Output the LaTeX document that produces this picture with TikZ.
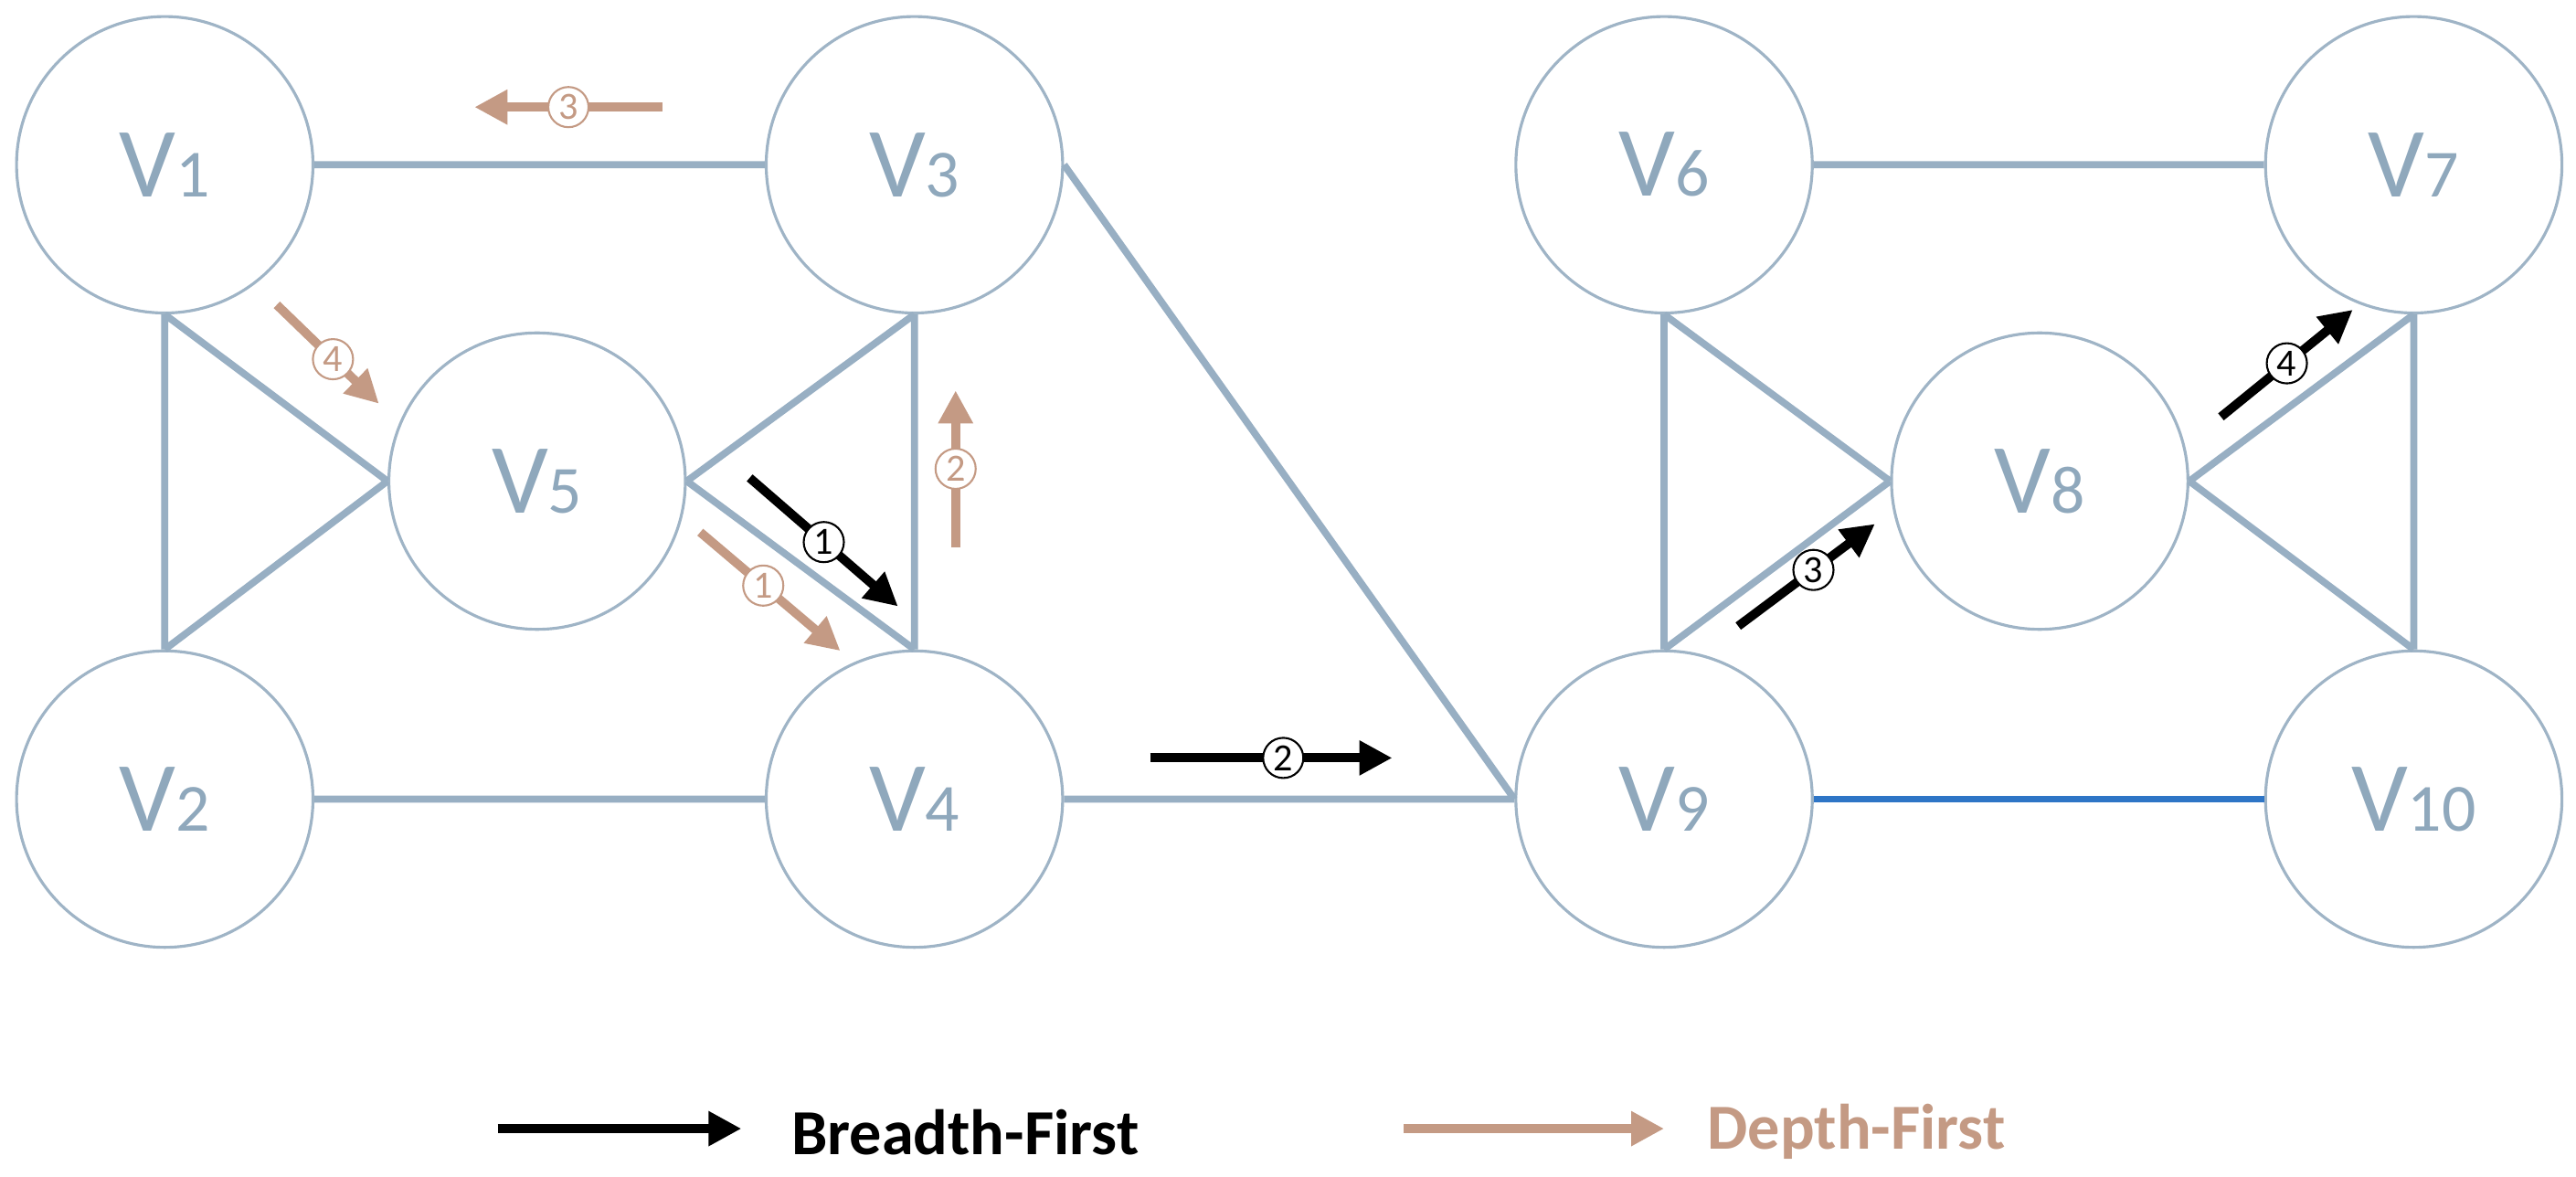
\documentclass[tikz,border=0pt]{standalone}
\usepackage{fontspec}
\setmainfont{Carlito}
\usetikzlibrary{arrows.meta}
\definecolor{edge}{HTML}{98AFC3}
\definecolor{ring}{HTML}{9FB4C6}
\definecolor{lab}{HTML}{8FA8BC}
\definecolor{tan}{HTML}{C49A84}
\definecolor{blu}{HTML}{2E75C6}
\begin{document}
\begin{tikzpicture}[x=0.01803cm,y=-0.01803cm,
  vert/.style={circle,draw=ring,line width=0.9pt,minimum size=3.245cm,inner sep=0pt,text=lab,font=\fontsize{31}{31}\selectfont},
  e/.style={draw=edge,line width=2.2pt},
  bfs/.style={line width=2.8pt,black,-{Triangle[length=0.36cm,width=0.36cm]}},
  dfs/.style={line width=2.8pt,tan,-{Triangle[length=0.36cm,width=0.36cm]}},
  num/.style={circle,draw,line width=0.6pt,fill=white,inner sep=0.5pt,minimum size=0.44cm,font=\fontsize{12}{12}\selectfont},
  bnum/.style={num,draw=black,text=black},
  dnum/.style={num,draw=tan,text=tan}]
\useasboundingbox (0,0) rectangle (1563.5,714.3);
\newcommand{\vl}[1]{V{\fontsize{21}{21}\selectfont #1}}
\node[vert] (v1) at (100,100) {\vl{1}};
\node[vert] (v3) at (555,100) {\vl{3}};
\node[vert] (v5) at (326,292) {\vl{5}};
\node[vert] (v2) at (100,485) {\vl{2}};
\node[vert] (v4) at (555,485) {\vl{4}};
\node[vert] (v6) at (1010,100) {\vl{6}};
\node[vert] (v7) at (1465,100) {\vl{7}};
\node[vert] (v8) at (1238,292) {\vl{8}};
\node[vert] (v9) at (1010,485) {\vl{9}};
\node[vert] (v10) at (1465,485) {\vl{10}};
\path[e] (v1.east)--(v3.west) (v1.south)--(v2.north) (v1.south)--(v5.west) (v2.north)--(v5.west)
 (v5.east)--(v3.south) (v5.east)--(v4.north) (v3.south)--(v4.north) (v2.east)--(v4.west)
 (v3.east)--(v9.west) (v4.east)--(v9.west)
 (v6.east)--(v7.west) (v6.south)--(v9.north) (v6.south)--(v8.west) (v9.north)--(v8.west)
 (v8.east)--(v7.south) (v8.east)--(v10.north) (v7.south)--(v10.north);
\draw[blu,line width=2.2pt] (v9.east)--(v10.west);
% BFS
\draw[bfs] (455,290)--(545,368) node[bnum,pos=0.5] (b1) {1};
\draw[bfs] (698,460)--(845,460) node[bnum,pos=0.55] (b2) {2};
\draw[bfs] (1055,380)--(1138,318) node[bnum,pos=0.55] (b3) {3};
\draw[bfs] (1348,253)--(1428,188) node[bnum,pos=0.5] (b4) {4};
% DFS
\draw[dfs] (425,323)--(510,395) node[dnum,pos=0.45] (d1) {1};
\draw[dfs] (580,332)--(580,237) node[dnum,pos=0.5] (d2) {2};
\draw[dfs] (402,65)--(288,65) node[dnum,pos=0.5] (d3) {3};
\draw[dfs] (168,185)--(230,245) node[dnum,pos=0.55] (d4) {4};
% legend
\draw[bfs] (302,685)--(450,685);
\node[font=\bfseries\fontsize{20}{20}\selectfont,anchor=west,inner sep=0pt] (lb) at (480,687) {Breadth-First};
\draw[dfs] (852,685)--(1010,685);
\node[font=\bfseries\fontsize{20}{20}\selectfont,anchor=west,text=tan,inner sep=0pt] (ld) at (1036,687) {Depth-First};
\end{tikzpicture}
\end{document}
